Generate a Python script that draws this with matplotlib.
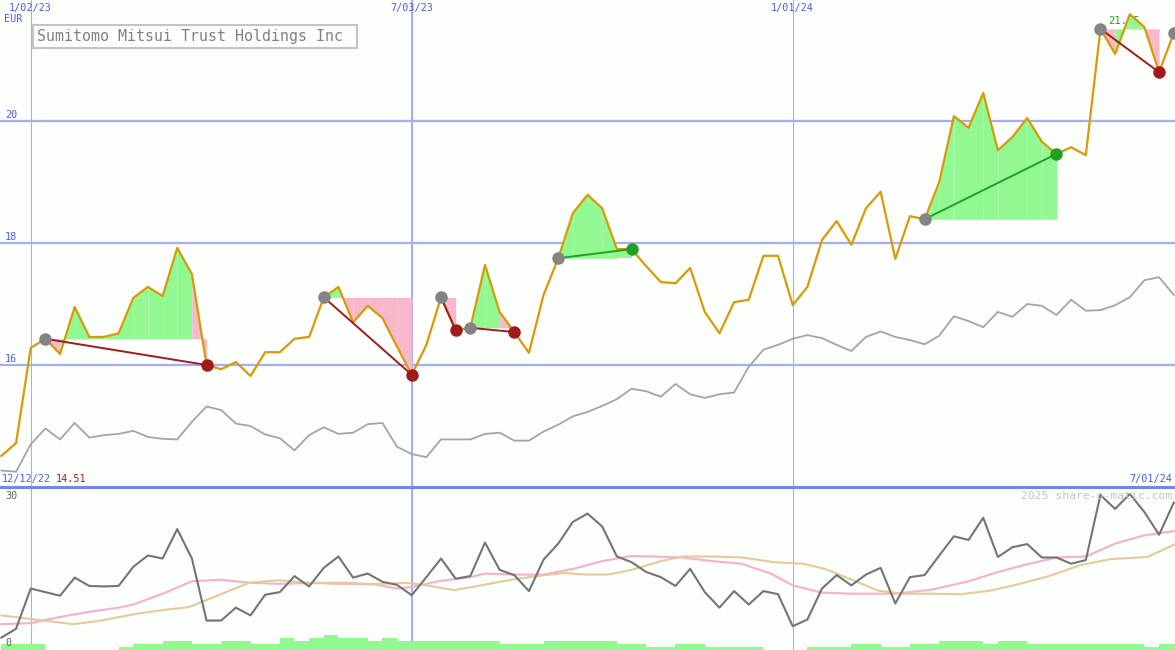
import matplotlib

matplotlib.use("Agg")
import matplotlib.pyplot as plt
from matplotlib.lines import Line2D
from matplotlib.patches import Rectangle

W, H = 1175, 650

# weekly closes (EUR), week 0 = first bar on the chart
close = [
    14.51, 14.72, 16.28, 16.43, 16.18, 16.95, 16.46, 16.46, 16.52, 17.10,
    17.28, 17.13, 17.92, 17.49, 16.00, 15.93, 16.05, 15.82, 16.21, 16.21,
    16.43, 16.46, 17.11, 17.28, 16.70, 16.97, 16.77, 16.30, 15.84, 16.33,
    17.11, 16.57, 16.61, 17.64, 16.87, 16.54, 16.20, 17.15, 17.75, 18.49,
    18.79, 18.57, 17.90, 17.90, 17.62, 17.36, 17.34, 17.59, 16.87, 16.52,
    17.03, 17.07, 17.79, 17.79, 16.98, 17.28, 18.05, 18.36, 17.97, 18.57,
    18.84, 17.74, 18.44, 18.39, 19.00, 20.08, 19.89, 20.46, 19.52, 19.74,
    20.05, 19.66, 19.46, 19.57, 19.44, 21.51, 21.10, 21.75, 21.54, 20.80,
    21.44,
]

# comparison line (grey) in the price panel
benchmark = [
    14.27, 14.25, 14.70, 14.96, 14.78, 15.05, 14.81, 14.85, 14.87, 14.92,
    14.82, 14.79, 14.78, 15.07, 15.32, 15.26, 15.04, 15.00, 14.86, 14.80,
    14.60, 14.85, 14.98, 14.87, 14.89, 15.03, 15.05, 14.66, 14.54, 14.49,
    14.78, 14.78, 14.78, 14.87, 14.89, 14.76, 14.76, 14.91, 15.02, 15.16,
    15.23, 15.33, 15.44, 15.61, 15.57, 15.48, 15.69, 15.52, 15.46, 15.52,
    15.55, 15.97, 16.25, 16.33, 16.43, 16.49, 16.44, 16.33, 16.23, 16.46,
    16.55, 16.46, 16.41, 16.34, 16.48, 16.80, 16.72, 16.62, 16.87, 16.79,
    17.00, 16.97, 16.82, 17.07, 16.89, 16.90, 16.98, 17.11, 17.39, 17.44,
    17.15,
]

# signals: (entry week, exit week)
trades = [(3, 14), (22, 28), (30, 31), (32, 35), (38, 43), (63, 72), (75, 79)]
open_entry = 80

# lower panel indicator
osc = [
    2.4, 4.1, 11.9, 11.2, 10.5, 14.0, 12.4, 12.3, 12.4, 16.1,
    18.3, 17.7, 23.4, 17.7, 5.7, 5.7, 8.2, 6.7, 10.7, 11.2,
    14.3, 12.3, 15.9, 18.1, 14.0, 14.8, 13.2, 12.6, 10.6, 14.1,
    17.7, 13.8, 14.3, 20.8, 15.5, 14.5, 11.4, 17.5, 20.6, 24.8,
    26.4, 23.9, 18.1, 17.0, 15.1, 14.1, 12.4, 15.7, 11.2, 8.2,
    11.4, 8.8, 11.4, 10.8, 4.6, 5.9, 11.9, 14.5, 12.5, 14.6,
    15.9, 9.0, 14.1, 14.5, 18.3, 22.0, 21.3, 25.6, 18.0, 19.9,
    20.5, 17.9, 17.9, 16.7, 17.4, 30.0, 27.3, 30.2, 26.7, 22.3,
    28.5,
]

fast_weeks = [0, 2, 4, 6, 8, 9, 11, 13, 15, 17, 19, 21.5, 23.5, 25.5, 27, 28,
              30, 32, 33, 35, 37, 39, 41, 43, 44.5, 46.5, 48.5, 50.5, 52.5,
              54, 56, 58, 61, 63.5, 66, 68, 70, 72, 74, 76, 78, 80]
fast_avg = [5.0, 5.2, 6.4, 7.4, 8.2, 8.8, 10.9, 13.3, 13.6, 13.0, 12.8, 13.0,
            13.0, 12.7, 11.9, 12.2, 13.4, 14.1, 14.8, 14.6, 14.6, 15.7, 17.2,
            18.2, 18.1, 17.9, 17.2, 16.7, 14.8, 12.5, 11.1, 10.9, 10.9, 11.7,
            13.3, 15.1, 16.6, 17.9, 18.1, 20.6, 22.2, 23.0]

slow_weeks = [0, 2, 4.9, 6.6, 9.2, 11.2, 12.8, 14.8, 16.9, 18.9, 21, 23, 25,
              27.6, 28.6, 30.9, 32.7, 34.8, 36.8, 38.4, 39.9, 41.4, 43, 45,
              46.5, 48.6, 50.6, 52.7, 54.7, 56.2, 58.3, 59.8, 61.4, 63.4, 65.5,
              67.5, 69.5, 71.6, 73.6, 75.7, 78.2, 80.2]
slow_avg = [6.7, 6.0, 5.0, 5.6, 7.0, 7.8, 8.3, 10.6, 13.0, 13.5, 13.0, 12.8,
            12.7, 13.0, 12.7, 11.6, 12.5, 13.6, 14.4, 14.9, 14.6, 14.6, 15.5,
            17.2, 18.1, 18.1, 17.9, 17.0, 16.7, 15.7, 13.3, 11.5, 10.9, 10.9,
            10.8, 11.5, 12.8, 14.4, 16.4, 17.6, 18.0, 20.6]

volume = [
    2, 2, 2, 0, 0, 0, 0, 0, 1, 2, 2, 3, 3, 2, 2, 3, 3, 2, 2, 4,
    3, 4, 5, 4, 4, 3, 4, 3, 3, 3, 3, 3, 3, 3, 2, 2, 2, 3, 3, 3,
    3, 3, 2, 2, 1, 1, 2, 2, 1, 1, 1, 1, 0, 0, 0, 1, 1, 1, 2, 2,
    1, 1, 2, 2, 3, 3, 3, 2, 3, 3, 2, 2, 2, 2, 2, 2, 2, 2, 1, 2,
    2,
]

date_weeks = [2, 28, 54]
date_labels = ["1/02/23", "7/03/23", "1/01/24"]
price_levels = [16, 18, 20]
start_label, end_label = "12/12/22", "7/01/24"
title = "Sumitomo Mitsui Trust Holdings Inc"

BG = "#fcfefc"
BLUE_TXT = "#4a5cf0"
GRID = "#a4aef4"
ORANGE = "#d99a06"
GREEN_FILL = "#92f892"
PINK_FILL = "#f8b8cc"
LOSS = "#a01c1c"
WIN = "#22a022"
MONO = "DejaVu Sans Mono"


def fx(px):
    return px / W


def fy(py):
    return 1 - py / H


fig = plt.figure(figsize=(W / 100, H / 100), dpi=100, facecolor=BG)
ax = fig.add_axes([0, 163 / H, 1, 487 / H])
ax2 = fig.add_axes([0, 0, 1, 163 / H])
for a in (ax, ax2):
    a.set_facecolor(BG)
    a.axis("off")

x0 = -1.4 / 14.654
x1 = (W - 1.4) / 14.654
weeks = list(range(len(close)))

# ---- price panel
ax.set_xlim(x0, x1)
ax.set_ylim(14.0, 16 + 365 / 61)
for lvl in price_levels:
    ax.axhline(lvl, color=GRID, lw=1.6, zorder=0)
for w in date_weeks:
    ax.axvline(w, color=GRID, lw=1.5 if w == 28 else 0.8, zorder=0)

# max label sits behind the price line
ax.text(75.5, max(close) - 0.11, f"{max(close):.2f}", color=WIN,
        fontsize=7.6, family=MONO, va="center", ha="left", zorder=1)

for entry, exit_ in trades:
    base = close[entry]
    for k in range(entry, exit_):
        color = GREEN_FILL if close[k + 1] >= base else PINK_FILL
        ax.fill_between([k, k + 1], [close[k], close[k + 1]], base,
                        color=color, lw=0, zorder=1)

ax.plot(weeks, benchmark, color="#a4a4a4", lw=1.3, zorder=2)
ax.plot(weeks, close, color=ORANGE, lw=1.6, zorder=3)

for entry, exit_ in trades:
    color = WIN if close[exit_] >= close[entry] else LOSS
    ax.plot([entry, exit_], [close[entry], close[exit_]], color=color,
            lw=1.4, zorder=4)
    ax.plot(entry, close[entry], "o", color="#848484", ms=9, mew=0, zorder=5)
    ax.plot(exit_, close[exit_], "o", color=color, ms=9, mew=0, zorder=5)
ax.plot(open_entry, close[open_entry], "o", color="#848484", ms=9, mew=0,
        zorder=5)

# ---- indicator panel
ax2.set_xlim(x0, x1)
ax2.set_ylim(0, 163 / 5.167)
for w in date_weeks:
    ax2.axvline(w, color=GRID, lw=1.5 if w == 28 else 0.8, zorder=0)
ax2.plot(fast_weeks, fast_avg, color="#f8b0c8", lw=1.5, zorder=2)
ax2.plot(slow_weeks, slow_avg, color="#e2ca9a", lw=1.5, zorder=2)
ax2.plot(weeks, osc, color="#747474", lw=1.5, zorder=3)

axv = ax2.twinx()
axv.axis("off")
axv.set_xlim(x0, x1)
axv.set_ylim(0, 163 / 3)
axv.bar(weeks, volume, width=1.0, align="edge", color="#92f892", lw=0)

# ---- frame text
fig.add_artist(Line2D([0, 1], [fy(487), fy(487)], color="#7484f0", lw=2.2))

for w, lab in zip(date_weeks, date_labels):
    fig.text(fx(1.4 + 14.654 * w), fy(8), lab, color=BLUE_TXT, fontsize=7.3,
             family=MONO, ha="center", va="center")
fig.text(fx(4), fy(19), "EUR", color=BLUE_TXT, fontsize=7.3, family=MONO,
         ha="left", va="center")
for lvl in price_levels:
    py = 365 - (lvl - 16) * 61
    fig.text(fx(5), fy(py - 6), str(lvl), color=BLUE_TXT, fontsize=7.3,
             family=MONO, ha="left", va="center")

fig.add_artist(Rectangle((fx(33), fy(48)), 324 / W, 23 / H,
                         transform=fig.transFigure, facecolor=BG,
                         edgecolor="#c4c4c4", lw=1.5, zorder=6))
fig.text(fx(37), fy(36.5), title, color="#808080", fontsize=10.8,
         family=MONO, ha="left", va="center", zorder=7)

fig.text(fx(2), fy(479), start_label, color=BLUE_TXT, fontsize=7.3,
         family=MONO, ha="left", va="center")
fig.text(fx(56), fy(479), f"{min(close):.2f}", color=LOSS, fontsize=7.3,
         family=MONO, ha="left", va="center")
fig.text(fx(1172), fy(479), end_label, color=BLUE_TXT, fontsize=7.3,
         family=MONO, ha="right", va="center")
fig.text(fx(1172), fy(496), "2025 share-o-matic.com", color="#c4c4c4",
         fontsize=8.2, family=MONO, ha="right", va="center")
fig.text(fx(5), fy(496), "30", color="#606060", fontsize=7.3, family=MONO,
         ha="left", va="center")
fig.text(fx(5), fy(643), "0", color="#606060", fontsize=7.3, family=MONO,
         ha="left", va="center")

fig.savefig("out.png", dpi=100, facecolor=BG)
